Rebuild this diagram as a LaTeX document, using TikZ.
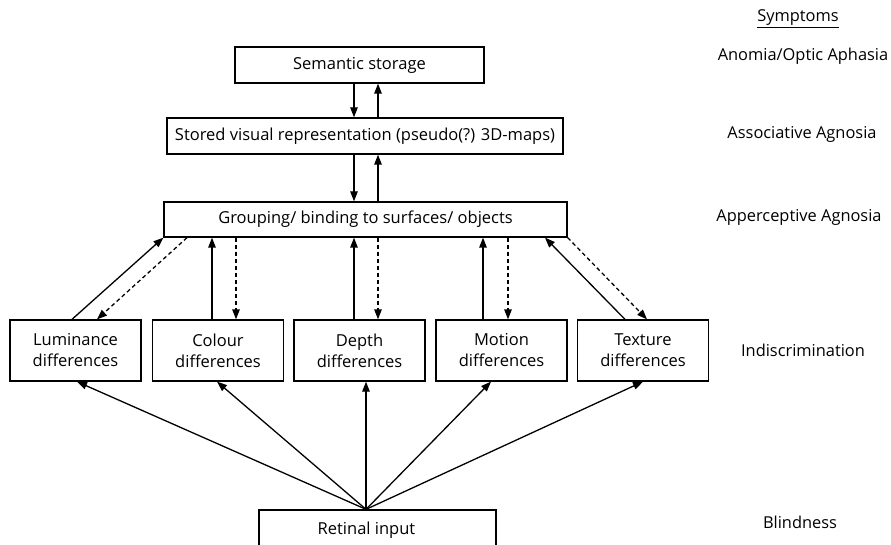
\documentclass[tikz,border=0pt]{standalone}
\usepackage{fontspec}
\setmainfont{Open Sans}
\usetikzlibrary{arrows.meta,calc}
\begin{document}
\begin{tikzpicture}[x=1pt,y=-1pt,
  box/.style={draw,line width=1.3pt,inner sep=0pt,align=center,font=\fontsize{16.5}{21}\selectfont},
  lowbox/.style={box,minimum width=131pt,minimum height=61pt},
  arr/.style={line width=1.3pt,-{Triangle[length=10pt,width=7.5pt]}},
  darr/.style={arr,dash pattern=on 4pt off 3pt},
  sym/.style={font=\fontsize{16.4}{20}\selectfont}]
\useasboundingbox (0,0) rectangle (891,545);
\clip (0,0) rectangle (891,545);
% boxes
\node[box,minimum width=249pt,minimum height=36pt] (sem) at (359.5,65) {Semantic storage};
\node[box,minimum width=396pt,minimum height=36pt] (sto) at (365,136) {Stored visual representation (pseudo(?) 3D-maps)};
\node[box,minimum width=403pt,minimum height=35pt] (grp) at (365.5,219.5) {Grouping/ binding to surfaces/ objects};
\node[lowbox] (lum) at (75.5,350.5) {Luminance\\differences};
\node[lowbox] (col) at (218,350.5) {Colour\\differences};
\node[lowbox] (dep) at (359.5,350.5) {Depth\\differences};
\node[lowbox] (mot) at (501.5,350.5) {Motion\\differences};
\node[lowbox] (tex) at (643,350.5) {Texture\\differences};
\node[box,minimum width=237pt,minimum height=40pt] (ret) at (377.5,530) {\hspace*{-22pt}Retinal input};
% column coordinates
\coordinate (cA) at (354,0);
\coordinate (cB) at (378,0);
% top vertical arrows
\draw[arr] (sem.south -| cA) -- (sto.north -| cA);
\draw[arr] (sto.north -| cB) -- (sem.south -| cB);
\draw[arr] (sto.south -| cA) -- (grp.north -| cA);
\draw[arr] (grp.north -| cB) -- (sto.south -| cB);
% grouping <-> feature boxes
\coordinate (l1) at (72,0); \coordinate (l2) at (97,0);
\coordinate (g1) at (187,0);
\draw[arr] (lum.north -| l1) -- (grp.south west);
\draw[darr] (grp.south -| g1) -- (lum.north -| l2);
\coordinate (k1) at (212,0); \coordinate (k2) at (236,0);
\draw[arr] (col.north -| k1) -- (grp.south -| k1);
\draw[darr] (grp.south -| k2) -- (col.north -| k2);
\draw[arr] (dep.north -| cA) -- (grp.south -| cA);
\draw[darr] (grp.south -| cB) -- (dep.north -| cB);
\coordinate (m1) at (483,0); \coordinate (m2) at (508,0);
\draw[arr] (mot.north -| m1) -- (grp.south -| m1);
\draw[darr] (grp.south -| m2) -- (mot.north -| m2);
\coordinate (t1) at (625,0); \coordinate (t2) at (647,0);
\coordinate (g2) at (545,0);
\draw[arr] (tex.north -| t1) -- (grp.south -| g2);
\draw[darr] (grp.south east) -- (tex.north -| t2);
% retinal input fan
\coordinate (src) at (366,0);
\coordinate (r1) at (77,0); \coordinate (r2) at (217,0);
\coordinate (r4) at (491,0); \coordinate (r5) at (643,0);
\draw[arr] (ret.north -| src) -- (lum.south -| r1);
\draw[arr] (ret.north -| src) -- (col.south -| r2);
\draw[arr] (ret.north -| src) -- (dep.south -| src);
\draw[arr] (ret.north -| src) -- (mot.south -| r4);
\draw[arr] (ret.north -| src) -- (tex.south -| r5);
% symptoms
\node[sym] (symh) at (798,19) {\underline{Symptoms}};
\node[sym] (s1) at (803,56) {Anomia/Optic Aphasia};
\node[sym] (s2) at (802,134) {Associative Agnosia};
\node[sym] (s3) at (799,217) {Apperceptive Agnosia};
\node[sym] (s4) at (803,350) {Indiscrimination};
\node[sym] (s5) at (800,522) {Blindness};
\end{tikzpicture}
\end{document}
